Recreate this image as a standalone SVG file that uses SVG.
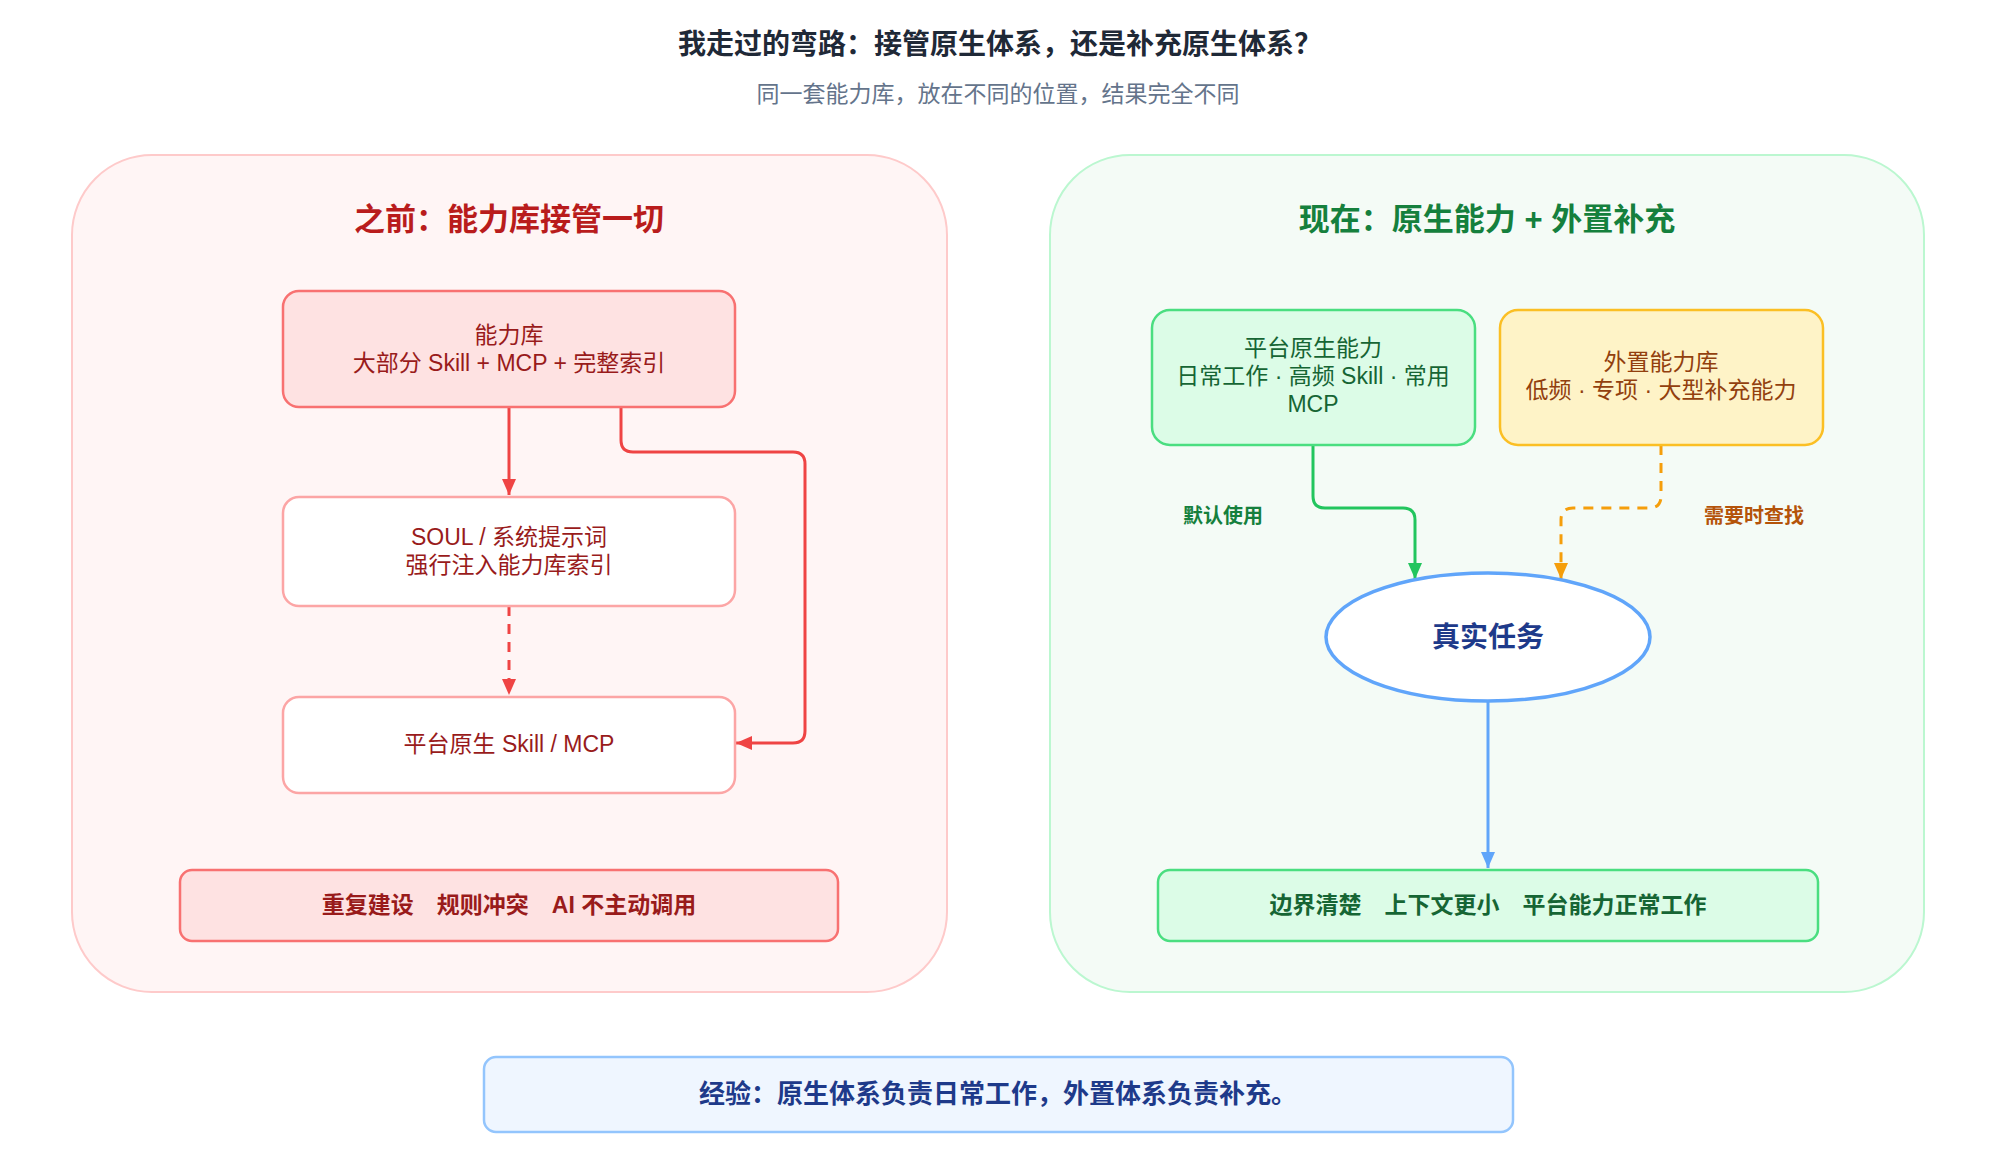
<svg xmlns="http://www.w3.org/2000/svg" width="2000" height="1155" viewBox="0 0 2000 1155">
<defs>
<style>
text{font-family:"Liberation Sans","Noto Sans CJK SC",sans-serif;text-anchor:middle}
.title{font-size:28px;font-weight:700;fill:#1f2937}
.sub{font-size:23px;fill:#64748b}
.ptl{font-size:31px;font-weight:700;fill:#b91c1c}
.ptr{font-size:31px;font-weight:700;fill:#15803d}
.rt{font-size:23px;fill:#991b1b}
.gt{font-size:23px;fill:#166534}
.yt{font-size:23px;fill:#92400e}
.sumr{font-size:23px;font-weight:700;fill:#991b1b}
.sumg{font-size:23px;font-weight:700;fill:#166534}
.lbl{font-size:20px;font-weight:700}
.conn{fill:none;stroke-width:3}
</style>
<marker id="ar" markerUnits="userSpaceOnUse" markerWidth="16" markerHeight="14" refX="16" refY="7" orient="auto"><path d="M0,0 L16,7 L0,14 z" fill="#ef4444"/></marker>
<marker id="ag" markerUnits="userSpaceOnUse" markerWidth="16" markerHeight="14" refX="16" refY="7" orient="auto"><path d="M0,0 L16,7 L0,14 z" fill="#22c55e"/></marker>
<marker id="ao" markerUnits="userSpaceOnUse" markerWidth="16" markerHeight="14" refX="16" refY="7" orient="auto"><path d="M0,0 L16,7 L0,14 z" fill="#f59e0b"/></marker>
<marker id="ab" markerUnits="userSpaceOnUse" markerWidth="16" markerHeight="14" refX="16" refY="7" orient="auto"><path d="M0,0 L16,7 L0,14 z" fill="#60a5fa"/></marker>
</defs>
<rect width="2000" height="1155" fill="#ffffff"/>
<text class="title" x="1000" y="54">我走过的弯路：接管原生体系，还是补充原生体系？</text>
<text class="sub" x="998" y="102">同一套能力库，放在不同的位置，结果完全不同</text>

<g id="panel-left">
<rect x="72" y="155" width="875" height="837" rx="80" fill="#fff5f5" stroke="#fecaca" stroke-width="2"/>
<text class="ptl" x="509" y="230">之前：能力库接管一切</text>
</g>
<g id="panel-right">
<rect x="1050" y="155" width="874" height="837" rx="80" fill="#f4fbf6" stroke="#bbf7d0" stroke-width="2"/>
<text class="ptr" x="1487" y="230">现在：原生能力 + 外置补充</text>
</g>

<g id="connectors">
<path class="conn" d="M509 407 V495" stroke="#ef4444" marker-end="url(#ar)"/>
<path class="conn" d="M621 407 V440 Q621 452 633 452 H793 Q805 452 805 464 V731 Q805 743 793 743 H736" stroke="#ef4444" marker-end="url(#ar)"/>
<path class="conn" d="M509 606 V695" stroke="#ef4444" stroke-dasharray="10 8" marker-end="url(#ar)"/>
<path class="conn" d="M1313 445 V496 Q1313 508 1325 508 H1403 Q1415 508 1415 520 V579" stroke="#22c55e" marker-end="url(#ag)"/>
<path class="conn" d="M1661 445 V496 Q1661 508 1649 508 H1573 Q1561 508 1561 520 V579" stroke="#f59e0b" stroke-dasharray="10 8" marker-end="url(#ao)"/>
<path class="conn" d="M1488 702 V868" stroke="#60a5fa" marker-end="url(#ab)"/>
<text class="lbl" x="1223" y="523" fill="#15803d">默认使用</text>
<text class="lbl" x="1754" y="523" fill="#b45309">需要时查找</text>
</g>

<g id="node-library">
<rect x="283" y="291" width="452" height="116" rx="16" fill="#fee2e2" stroke="#f87171" stroke-width="2.5"/>
<text class="rt" x="509" y="343">能力库</text>
<text class="rt" x="509" y="371">大部分 Skill + MCP + 完整索引</text>
</g>
<g id="node-soul">
<rect x="283" y="497" width="452" height="109" rx="16" fill="#ffffff" stroke="#fca5a5" stroke-width="2.5"/>
<text class="rt" x="509" y="545">SOUL / 系统提示词</text>
<text class="rt" x="509" y="573">强行注入能力库索引</text>
</g>
<g id="node-native-left">
<rect x="283" y="697" width="452" height="96" rx="16" fill="#ffffff" stroke="#fca5a5" stroke-width="2.5"/>
<text class="rt" x="509" y="752">平台原生 Skill / MCP</text>
</g>
<g id="node-problems">
<rect x="180" y="870" width="658" height="71" rx="12" fill="#fee2e2" stroke="#f87171" stroke-width="2.5"/>
<text class="sumr" x="509" y="913">重复建设　规则冲突　AI 不主动调用</text>
</g>

<g id="node-native-right">
<rect x="1152" y="310" width="323" height="135" rx="18" fill="#dcfce7" stroke="#4ade80" stroke-width="2.5"/>
<text class="gt" x="1313" y="356">平台原生能力</text>
<text class="gt" x="1313" y="384">日常工作 · 高频 Skill · 常用</text>
<text class="gt" x="1313" y="412">MCP</text>
</g>
<g id="node-external">
<rect x="1500" y="310" width="323" height="135" rx="18" fill="#fef3c7" stroke="#fbbf24" stroke-width="2.5"/>
<text class="yt" x="1661" y="370">外置能力库</text>
<text class="yt" x="1661" y="398">低频 · 专项 · 大型补充能力</text>
</g>
<g id="node-task">
<ellipse cx="1488" cy="637" rx="162" ry="64" fill="#ffffff" stroke="#60a5fa" stroke-width="3.5"/>
<text x="1488" y="647" style="font-size:28px;font-weight:700;fill:#1e3a8a">真实任务</text>
</g>
<g id="node-benefits">
<rect x="1158" y="870" width="660" height="71" rx="12" fill="#dcfce7" stroke="#4ade80" stroke-width="2.5"/>
<text class="sumg" x="1488" y="913">边界清楚　上下文更小　平台能力正常工作</text>
</g>

<g id="node-lesson">
<rect x="484" y="1057" width="1029" height="75" rx="12" fill="#eff6ff" stroke="#93c5fd" stroke-width="2.5"/>
<text x="998" y="1103" style="font-size:26px;font-weight:700;fill:#1e3a8a">经验：原生体系负责日常工作，外置体系负责补充。</text>
</g>
</svg>
